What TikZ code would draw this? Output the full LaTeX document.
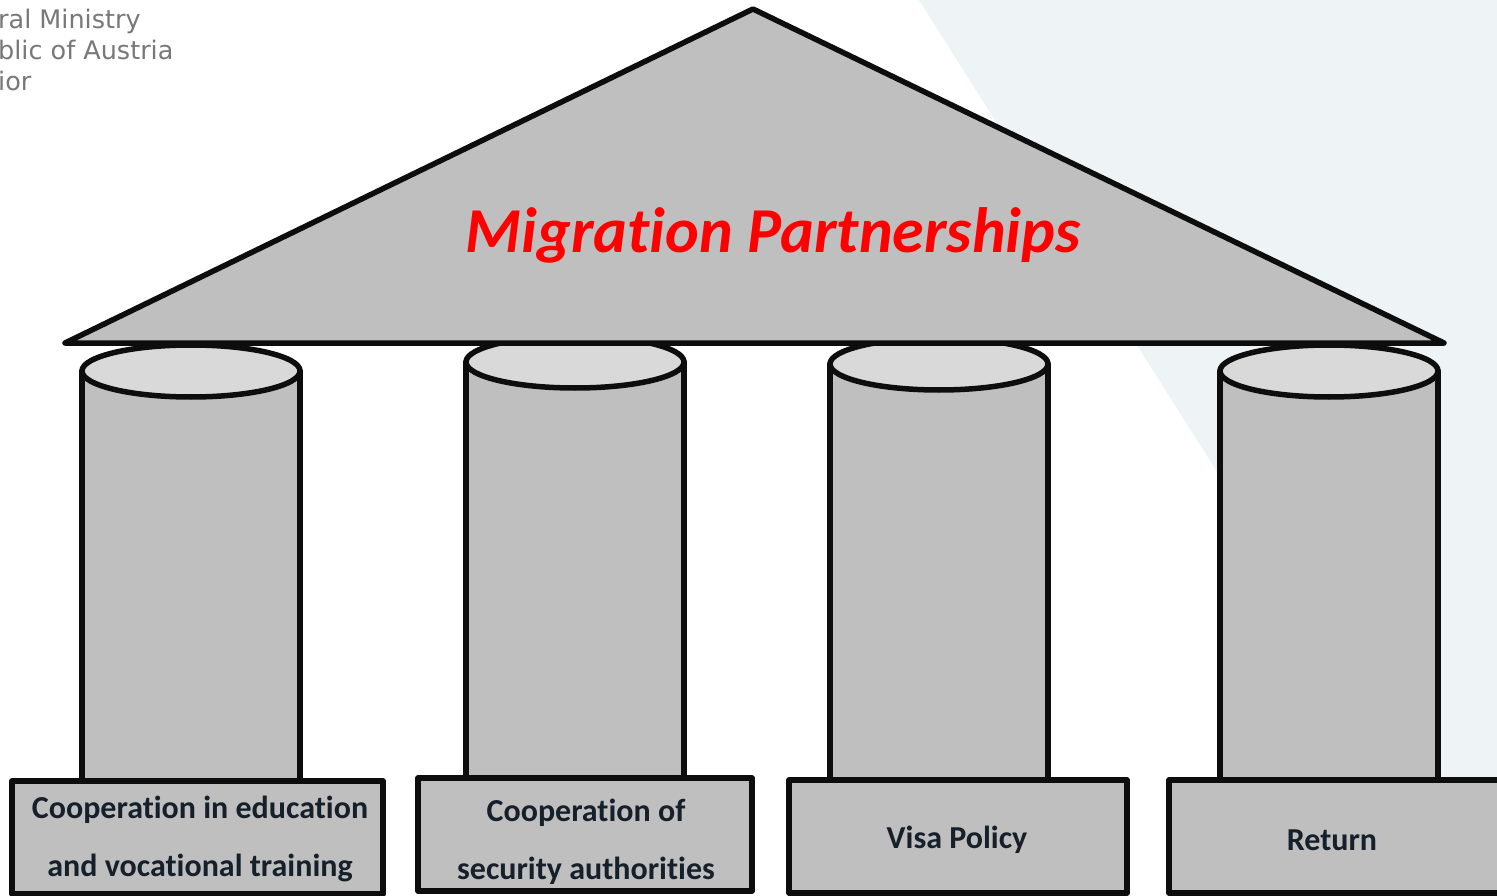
\documentclass[tikz,border=0pt]{standalone}
\usepackage{fontspec}
\setmainfont[Ligatures=CommonOff]{Carlito}
\newfontfamily\logofont{DejaVu Sans}
\definecolor{pale}{HTML}{EEF3F6}
\definecolor{body}{HTML}{BFBFBF}
\definecolor{lid}{HTML}{D9D9D9}
\definecolor{ink}{HTML}{0D0D0D}
\definecolor{labelink}{HTML}{15202B}
\definecolor{logoink}{HTML}{787878}
\tikzset{
  outline/.style={draw=ink,line width=5.5pt,line join=round},
  pillarbody/.style={outline,fill=body},
  pillarlid/.style={outline,fill=lid},
  basebox/.style={outline,fill=body,rectangle,inner sep=0pt,outer sep=0pt,anchor=north west},
  boxlabel/.style={inner sep=0pt,outer sep=0pt,align=center,text=labelink,font=\bfseries\fontsize{32}{57.5}\selectfont},
  logotext/.style={inner sep=0pt,anchor=base west,text=logoink,font=\logofont\fontsize{25.5}{25.5}\selectfont}
}
\newcommand{\pillar}[2]{% left x, lid centre y
  \path[pillarbody] (#1,#2) -- (#1,781) -- (#1+218,781) -- (#1+218,#2) -- cycle;
  \path[pillarlid] (#1+109,#2) ellipse [x radius=109,y radius=26];
}
\begin{document}
\begin{tikzpicture}[x=1pt,y=-1pt]
\useasboundingbox (0,0) rectangle (1497,896);
\clip (0,0) rectangle (1497,896);
\fill[white] (0,0) rectangle (1497,896);
\fill[pale] (919,0) -- (1497,0) -- (1497,896) -- (1485,896) -- cycle;
\node[logotext] (logoa) at (-2,29) {ral Ministry};
\node[logotext] (logob) at (-2,60) {blic of Austria};
\node[logotext] (logoc) at (-2,91) {ior};
\pillar{82}{371}
\pillar{466}{362}
\pillar{830}{364}
\pillar{1220}{371}
\path[outline,fill=body] (65,343) -- (753,9) -- (1444,343) -- cycle;
\node[inner sep=0pt,text=red,font=\bfseries\itshape\fontsize{64}{64}\selectfont] (roof) at (773,235) {Migration Partnerships};
\node[basebox,minimum width=371pt,minimum height=113pt] (boxa) at (12,781) {};
\node[basebox,minimum width=334pt,minimum height=113pt] (boxb) at (418,778) {};
\node[basebox,minimum width=338pt,minimum height=113pt] (boxc) at (789,780) {};
\node[basebox,minimum width=340pt,minimum height=113pt] (boxd) at (1169,780) {};
\node[boxlabel] (labela) at (200,839) {Cooperation in education\\and vocational training};
\node[boxlabel] (labelb) at (586,842) {Cooperation of\\security authorities};
\node[boxlabel] (labelc) at (957,840) {Visa Policy};
\node[boxlabel] (labeld) at (1332,840) {Return};
\end{tikzpicture}
\end{document}
